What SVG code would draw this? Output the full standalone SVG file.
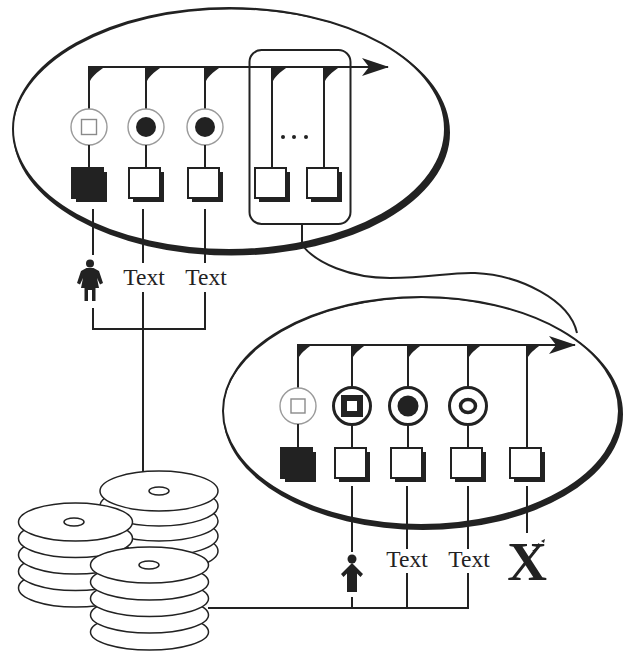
<svg xmlns="http://www.w3.org/2000/svg" xmlns:xlink="http://www.w3.org/1999/xlink" width="624" height="652" viewBox="0 0 624 652">
  <style>
    .ln { stroke: #222; stroke-width: 2; fill: none; }
    .rim { fill: none; stroke: #222; stroke-width: 2; }
    .band { fill: #222; fill-rule: evenodd; }
    .ghost { fill: #fff; stroke: #9a9a9a; stroke-width: 1.4; }
    .ring { fill: #fff; stroke: #222; stroke-width: 3; }
    .ink { fill: #222; }
    .disk { fill: #fff; stroke: #222; stroke-width: 1.5; }
    .lbl { font-family: "Liberation Serif", "Times New Roman", serif; font-size: 23.5px; fill: #222; text-anchor: middle; }
    .logo { font-family: "Liberation Serif", "Times New Roman", serif; font-size: 55px; font-weight: bold; fill: #222; text-anchor: middle; }
  </style>
  <defs>
    <marker id="barb" viewBox="0 0 28 20" refX="27" refY="10" markerWidth="28" markerHeight="20" orient="auto" markerUnits="userSpaceOnUse">
      <path d="M28,10 L1,1 L8,10 L1,19 Z" fill="#222"/>
    </marker>
    <!-- box with drop shadow, face at origin -->
    <g id="box">
      <rect x="4" y="4" width="31" height="30" fill="#222"/>
      <rect x="0" y="0" width="31" height="30" fill="#fff" stroke="#222" stroke-width="2"/>
    </g>
    <g id="boxSolid">
      <rect x="4" y="4" width="31" height="30" fill="#222"/>
      <rect x="0" y="0" width="31" height="30" fill="#222" stroke="#222" stroke-width="2"/>
    </g>
    <!-- flag on a timeline tick -->
    <path id="flag" d="M-1,0 H17 C11,4 4,9 1,15 H-1 Z" fill="#222"/>
    <path id="flagS" d="M-1,0 H15 C10,3.5 4,8 1,13 H-1 Z" fill="#222"/>
  </defs>

  <!-- upper domain -->
  <g id="upper-domain">
    <ellipse class="rim" cx="229" cy="129" rx="216" ry="121"/>
    <path class="band" d="M13,132.5 A218.5,123 0 1,0 450,132.5 A218.5,123 0 1,0 13,132.5 Z M13,129 A216,121 0 1,0 445,129 A216,121 0 1,0 13,129 Z"/>
    <line class="ln" x1="89" y1="67" x2="388" y2="67" marker-end="url(#barb)"/>
  </g>

  <g id="u1">
    <use xlink:href="#flag" x="89" y="66"/>
    <line class="ln" x1="89" y1="67" x2="89" y2="109"/>
    <circle class="ghost" cx="89" cy="127" r="18"/>
    <rect x="81.5" y="119.5" width="15" height="15" fill="none" stroke="#8a8a8a" stroke-width="1.4"/>
    <line class="ln" x1="89" y1="145" x2="89" y2="168"/>
    <use xlink:href="#boxSolid" x="72" y="168"/>
  </g>
  <g id="u2">
    <use xlink:href="#flag" x="146" y="66"/>
    <line class="ln" x1="146" y1="67" x2="146" y2="109"/>
    <circle class="ghost" cx="146" cy="127" r="18"/>
    <circle class="ink" cx="146" cy="127" r="10"/>
    <line class="ln" x1="146" y1="145" x2="146" y2="168"/>
    <use xlink:href="#box" x="129" y="168"/>
  </g>
  <g id="u3">
    <use xlink:href="#flag" x="205" y="66"/>
    <line class="ln" x1="205" y1="67" x2="205" y2="109"/>
    <circle class="ghost" cx="205" cy="127" r="18"/>
    <circle class="ink" cx="205" cy="127" r="10"/>
    <line class="ln" x1="205" y1="145" x2="205" y2="168"/>
    <use xlink:href="#box" x="188" y="168"/>
  </g>
  <g id="u4">
    <use xlink:href="#flag" x="272" y="66"/>
    <line class="ln" x1="272" y1="67" x2="272" y2="168"/>
    <use xlink:href="#box" x="255" y="168"/>
  </g>
  <g id="u5">
    <use xlink:href="#flag" x="324" y="66"/>
    <line class="ln" x1="324" y1="67" x2="324" y2="168"/>
    <use xlink:href="#box" x="307" y="168"/>
  </g>
  <g id="u-more">
    <circle class="ink" cx="283" cy="137" r="2"/>
    <circle class="ink" cx="294" cy="137" r="2"/>
    <circle class="ink" cx="306" cy="137" r="2"/>
  </g>
  <g id="focus">
    <rect class="ln" x="249.5" y="50" width="101" height="174" rx="12"/>
  </g>

  <!-- lower domain -->
  <g id="lower-domain">
    <ellipse class="rim" cx="421" cy="411" rx="198" ry="114"/>
    <path class="band" d="M223,414 A200,116 0 1,0 623,414 A200,116 0 1,0 223,414 Z M223,411 A198,114 0 1,0 619,411 A198,114 0 1,0 223,411 Z"/>
    <line class="ln" x1="298" y1="345" x2="575" y2="345" marker-end="url(#barb)"/>
  </g>

  <g id="l1">
    <use xlink:href="#flagS" x="298" y="344"/>
    <line class="ln" x1="298" y1="345" x2="298" y2="388"/>
    <circle class="ghost" cx="298" cy="406" r="18"/>
    <rect x="291" y="399" width="14" height="14" fill="none" stroke="#8a8a8a" stroke-width="1.4"/>
    <line class="ln" x1="298" y1="424" x2="298" y2="448"/>
    <use xlink:href="#boxSolid" x="281" y="448"/>
  </g>
  <g id="l2">
    <use xlink:href="#flagS" x="352" y="344"/>
    <line class="ln" x1="352" y1="345" x2="352" y2="387"/>
    <circle class="ring" cx="352" cy="406" r="18.5"/>
    <rect class="ink" x="341" y="395" width="22" height="22"/>
    <rect x="347" y="401" width="10" height="10" fill="#fff"/>
    <line class="ln" x1="352" y1="425" x2="352" y2="448"/>
    <use xlink:href="#box" x="335" y="448"/>
  </g>
  <g id="l3">
    <use xlink:href="#flagS" x="408" y="344"/>
    <line class="ln" x1="408" y1="345" x2="408" y2="387"/>
    <circle class="ring" cx="408" cy="406" r="18.5"/>
    <circle class="ink" cx="408" cy="406" r="10.5"/>
    <line class="ln" x1="408" y1="425" x2="408" y2="448"/>
    <use xlink:href="#box" x="391" y="448"/>
  </g>
  <g id="l4">
    <use xlink:href="#flagS" x="468" y="344"/>
    <line class="ln" x1="468" y1="345" x2="468" y2="387"/>
    <circle class="ring" cx="468" cy="406" r="18.5"/>
    <ellipse cx="468" cy="406" rx="7.5" ry="6.5" fill="#fff" stroke="#222" stroke-width="3.5"/>
    <line class="ln" x1="468" y1="425" x2="468" y2="448"/>
    <use xlink:href="#box" x="451" y="448"/>
  </g>
  <g id="l5">
    <use xlink:href="#flagS" x="527" y="344"/>
    <line class="ln" x1="527" y1="345" x2="527" y2="448"/>
    <use xlink:href="#box" x="510" y="448"/>
  </g>

  <!-- disk stores -->
  <g id="store-back">
    <ellipse class="disk" cx="159" cy="551" rx="59" ry="20"/>
    <ellipse class="disk" cx="159" cy="536" rx="59" ry="20"/>
    <ellipse class="disk" cx="159" cy="521" rx="59" ry="20"/>
    <ellipse class="disk" cx="159" cy="506" rx="59" ry="20"/>
    <ellipse class="disk" cx="159" cy="491" rx="59" ry="20"/>
    <ellipse class="disk" cx="159" cy="491" rx="10" ry="4"/>
  </g>
  <g id="store-left">
    <ellipse class="disk" cx="75.5" cy="588" rx="57" ry="19"/>
    <ellipse class="disk" cx="75.5" cy="571.5" rx="57" ry="19"/>
    <ellipse class="disk" cx="75.5" cy="555" rx="57" ry="19"/>
    <ellipse class="disk" cx="75.5" cy="538.5" rx="57" ry="19"/>
    <ellipse class="disk" cx="75.5" cy="522" rx="57" ry="19"/>
    <ellipse class="disk" cx="74" cy="522" rx="10" ry="4"/>
  </g>
  <g id="store-front">
    <ellipse class="disk" cx="149.5" cy="632" rx="59" ry="18"/>
    <ellipse class="disk" cx="149.5" cy="615" rx="59" ry="18"/>
    <ellipse class="disk" cx="149.5" cy="598.5" rx="59" ry="18"/>
    <ellipse class="disk" cx="149.5" cy="582" rx="59" ry="18"/>
    <ellipse class="disk" cx="149.5" cy="565" rx="59" ry="18"/>
    <ellipse class="disk" cx="149" cy="565" rx="10" ry="4"/>
  </g>

  <!-- actors and labels -->
  <g id="u-person">
    <circle class="ink" cx="90" cy="263.5" r="4"/>
    <path class="ink" d="M86.5,268 H93.5 L99,271 L103,283 L100,284.5 L97,278 L99,288 H95.5 V301 H92 V290 H88 V301 H84.5 V288 H81 L83,278 L80,284.5 L77,283 L81,271 Z"/>
  </g>
  <g id="u-label1"><text class="lbl" x="144" y="285">Text</text></g>
  <g id="u-label2"><text class="lbl" x="206" y="285">Text</text></g>

  <g id="l-person">
    <circle class="ink" cx="352" cy="559" r="4.5"/>
    <path class="ink" d="M352,563 L363,574 L360.5,577 L357,573.5 V592 H347 V573.5 L343.5,577 L341,574 Z"/>
  </g>
  <g id="l-label1"><text class="lbl" x="407" y="567">Text</text></g>
  <g id="l-label2"><text class="lbl" x="469" y="567">Text</text></g>
  <g id="l-logo">
    <text class="logo" x="527" y="580">X</text>
    <path class="ink" d="M535,546 l4,-3 l1,3 z M541,541 l4,-2 l-1,4 z M532,551 l3,-2 l1,2 z"/>
  </g>

  <!-- connectors -->
  <g id="connectors">
    <!-- upper slots down to their inputs -->
    <line class="ln" x1="93" y1="209" x2="93" y2="255"/>
    <line class="ln" x1="93" y1="308" x2="93" y2="329"/>
    <line class="ln" x1="143" y1="209" x2="143" y2="263"/>
    <line class="ln" x1="143" y1="292" x2="143" y2="471"/>
    <line class="ln" x1="205" y1="209" x2="205" y2="263"/>
    <line class="ln" x1="205" y1="292" x2="205" y2="329"/>
    <line class="ln" x1="92" y1="329" x2="206" y2="329"/>
    <!-- lower slots down to their inputs -->
    <line class="ln" x1="352" y1="486" x2="352" y2="552"/>
    <line class="ln" x1="352" y1="597" x2="352" y2="608"/>
    <line class="ln" x1="407" y1="486" x2="407" y2="549"/>
    <line class="ln" x1="407" y1="573" x2="407" y2="608"/>
    <line class="ln" x1="468" y1="486" x2="468" y2="549"/>
    <line class="ln" x1="468" y1="573" x2="468" y2="608"/>
    <line class="ln" x1="527" y1="486" x2="527" y2="533"/>
    <line class="ln" x1="208" y1="608" x2="469" y2="608"/>
    <!-- focus box expands into the lower domain -->
    <path class="ln" d="M302,224 V245 C316,263 350,278 390,278 C430,278 450,272 475,273 C520,275 570,300 577,333"/>
  </g>
</svg>
